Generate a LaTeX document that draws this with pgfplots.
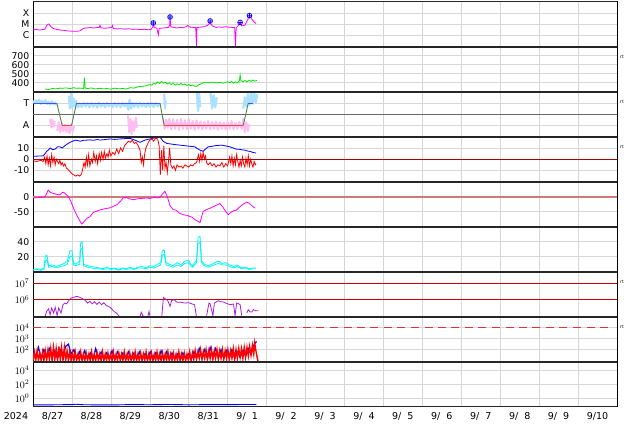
\documentclass[border=0pt]{standalone}
\usepackage{fontspec}
\setmainfont{DejaVu Sans}
\usepackage{pgfplots}
\pgfplotsset{compat=1.18}

\definecolor{xmag}{RGB}{255,0,255}
\definecolor{swgreen}{RGB}{0,230,0}
\definecolor{tcol}{RGB}{170,225,255}
\definecolor{acol}{RGB}{255,190,242}
\definecolor{secgreen}{RGB}{80,130,80}
\definecolor{pcyan}{RGB}{0,245,245}
\definecolor{purp}{RGB}{170,30,220}
\definecolor{refred}{RGB}{200,0,0}
\definecolor{dashred}{RGB}{225,50,50}
\definecolor{dstref}{RGB}{210,120,120}
\definecolor{gridc}{RGB}{215,215,215}

\pgfplotsset{
  panel/.style={
    scale only axis, width=584pt, height=45pt,
    anchor=north west,
    xmin=0, xmax=15, xtick={1,...,14}, xticklabels={},
    major tick length=0pt,
    xmajorgrids, ymajorgrids,
    major grid style={draw=gridc, line width=0.6pt},
    axis line style={line width=0.7pt},
    yticklabel style={font=\fontsize{9.3}{10}\selectfont, inner sep=0pt, xshift=-3.5pt},
    unbounded coords=jump,
  },
  logpanel/.style={panel, yticklabel style={font=\fontsize{10}{10}\selectfont}},
}

\begin{document}
\begin{tikzpicture}
\path[use as bounding box] (0,0) rectangle (634pt,-424pt);

% 1: X-ray flux (log10)
\begin{axis}[panel, at={(33pt,-1.7pt)}, ymin=-7, ymax=-3,
  ytick={-6,-5,-4}, yticklabels={C,M,X}]
\addplot[xmag, line width=0.8pt] coordinates {
(0.00,-5.50)(0.08,-5.47)(0.16,-5.52)(0.24,-5.48)(0.30,-5.45)(0.34,-5.20)(0.38,-5.00)(0.41,-4.98)
(0.45,-5.18)(0.52,-5.38)(0.60,-5.45)(0.70,-5.52)(0.80,-5.55)(0.90,-5.60)(1.00,-5.62)(1.10,-5.63)
(1.20,-5.60)(1.26,-5.45)(1.32,-5.35)(1.40,-5.32)(1.48,-5.30)(1.56,-5.34)(1.64,-5.30)(1.70,-5.28)
(1.72,-5.10)(1.74,-5.32)(1.84,-5.36)(1.94,-5.33)(2.02,-5.28)(2.04,-5.12)(2.06,-5.38)(2.16,-5.42)
(2.26,-5.40)(2.36,-5.44)(2.46,-5.40)(2.56,-5.46)(2.66,-5.44)(2.76,-5.48)(2.86,-5.45)(2.96,-5.50)
(3.04,-5.45)(3.08,-5.20)(3.09,-4.89)(3.11,-5.30)(3.18,-5.35)(3.22,-5.95)(3.24,-5.38)(3.32,-5.34)
(3.40,-5.32)(3.48,-5.28)(3.51,-5.10)(3.52,-4.36)(3.54,-5.22)(3.62,-5.30)(3.70,-5.34)(3.78,-5.28)
(3.86,-5.32)(3.94,-5.20)(3.98,-5.10)(4.02,-5.25)(4.10,-5.28)(4.18,-5.30)(4.20,-7.00)(4.21,-5.30)
(4.30,-5.26)(4.40,-5.22)(4.48,-5.10)(4.53,-4.95)(4.55,-4.71)(4.57,-5.00)(4.62,-5.18)(4.70,-5.28)
(4.78,-5.24)(4.86,-5.28)(4.94,-5.22)(5.02,-5.26)(5.10,-5.28)(5.18,-5.30)(5.20,-7.00)(5.22,-5.30)
(5.28,-5.10)(5.32,-4.84)(5.36,-5.15)(5.44,-5.10)(5.50,-4.70)(5.56,-4.24)(5.62,-4.55)(5.68,-4.80)(5.73,-4.95)
};
\addplot[only marks, mark=oplus, mark size=2.4pt, blue, line width=0.7pt, mark options={fill=blue!20}]
  coordinates {(3.09,-4.89)(3.52,-4.36)(4.55,-4.71)(5.32,-4.84)(5.56,-4.24)};
\end{axis}

% 2: solar wind speed
\begin{axis}[panel, at={(33pt,-46.7pt)}, ymin=300, ymax=800,
  ytick={400,500,600,700}, yticklabels={400,500,600,700}]
\addplot[swgreen, line width=0.8pt] coordinates {
(0.31,330)(0.40,325)(0.50,335)(0.60,332)(0.69,340)(0.75,338)(0.85,342)(0.95,335)(1.05,345)(1.10,338)
(1.20,340)(1.30,336)(1.32,455)(1.34,340)(1.40,335)(1.50,342)(1.60,330)(1.70,338)(1.80,332)(1.90,335)
(2.00,328)(2.10,340)(2.20,332)(2.30,336)(2.40,330)(2.50,345)(2.60,340)(2.70,355)(2.80,360)(2.90,365)
(3.00,380)(3.05,372)(3.10,395)(3.15,385)(3.20,410)(3.25,390)(3.30,415)(3.35,395)(3.40,405)(3.45,385)
(3.50,400)(3.55,380)(3.60,395)(3.65,372)(3.70,388)(3.75,378)(3.80,392)(3.85,375)(3.90,385)(3.95,370)
(4.00,380)(4.05,365)(4.10,375)(4.15,362)(4.20,358)(4.25,375)(4.30,385)(4.35,395)(4.40,402)(4.50,398)
(4.60,405)(4.70,398)(4.80,405)(4.90,395)(5.00,410)(5.05,400)(5.10,415)(5.15,395)(5.20,410)(5.25,398)
(5.30,420)(5.32,485)(5.34,420)(5.40,412)(5.45,425)(5.50,410)(5.55,428)(5.60,415)(5.65,430)(5.70,418)(5.75,425)
};
\end{axis}

% 3: IMF sector (T / A)
\begin{axis}[panel, at={(33pt,-91.7pt)}, ymin=-2, ymax=2,
  ytick={-1,1}, yticklabels={A,T}]
\addplot[tcol, line width=2.2pt, line join=round] coordinates {
(0.00,1.20)(0.04,0.95)(0.08,1.25)(0.12,1.00)(0.16,1.30)(0.20,0.90)(0.24,1.20)(0.28,0.95)(0.32,1.25)
(0.36,0.90)(0.40,1.10)(0.44,0.85)(0.48,1.15)(0.52,0.90)(0.56,1.05)(0.60,0.80)(0.61,nan)
(0.92,1.60)(0.95,0.50)(0.98,1.90)(1.01,0.60)(1.04,1.40)(1.07,0.70)(1.10,1.20)(1.12,0.90)(1.16,0.62)
(1.20,0.95)(1.25,0.65)(1.30,1.00)(1.35,0.70)(1.40,0.98)(1.45,0.62)(1.50,1.00)(1.55,0.66)(1.60,0.95)
(1.65,0.60)(1.70,1.02)(1.75,0.68)(1.80,0.96)(1.85,0.62)(1.90,1.00)(1.95,0.70)(2.00,0.95)(2.05,0.64)
(2.10,1.00)(2.15,0.66)(2.20,0.98)(2.25,0.62)(2.30,1.00)(2.35,0.70)(2.40,0.95)(2.45,0.40)(2.48,1.30)
(2.52,0.50)(2.56,1.00)(2.60,0.66)(2.65,0.98)(2.70,0.62)(2.75,1.00)(2.80,0.68)(2.85,0.96)(2.90,0.62)
(2.95,1.00)(3.00,0.66)(3.05,0.98)(3.10,0.64)(3.15,1.00)(3.20,0.70)(3.25,0.95)(3.26,nan)
(3.37,1.80)(3.39,0.50)(3.41,1.20)(3.42,nan)
(4.21,2.00)(4.24,0.30)(4.27,1.80)(4.29,0.60)(4.30,nan)
(4.56,1.90)(4.60,0.50)(4.64,1.70)(4.68,0.60)(4.72,1.50)(4.73,nan)
(5.40,0.50)(5.44,1.50)(5.48,0.70)(5.52,1.80)(5.56,0.80)(5.60,1.90)(5.64,0.90)(5.68,2.00)(5.72,1.00)(5.76,1.80)
};
\addplot[acol, line width=2.0pt, line join=round] coordinates {
(0.44,-0.40)(0.47,-1.20)(0.50,-0.50)(0.53,-1.10)(0.56,-0.60)(0.57,nan)
(0.62,-1.50)(0.66,-0.70)(0.70,-1.60)(0.74,-0.80)(0.78,-1.50)(0.82,-0.90)(0.86,-1.60)(0.90,-1.00)
(0.94,-1.70)(0.98,-0.90)(1.02,-1.50)(1.06,-1.00)(1.07,nan)
(2.44,-0.10)(2.47,-1.60)(2.50,-0.40)(2.53,-1.80)(2.56,-0.60)(2.60,-1.50)(2.64,-0.30)(2.67,-1.20)(2.68,nan)
(3.34,-0.30)(3.38,-1.30)(3.42,-0.50)(3.46,-1.20)(3.50,-0.40)(3.55,-1.35)(3.60,-0.45)(3.65,-1.30)
(3.70,-0.50)(3.75,-1.40)(3.80,-0.40)(3.85,-1.30)(3.90,-0.55)(3.95,-1.35)(4.00,-0.45)(4.05,-1.30)
(4.10,-0.60)(4.15,-1.40)(4.20,-0.55)(4.25,-1.30)(4.30,-0.65)(4.35,-1.35)(4.40,-0.70)(4.45,-1.30)
(4.50,-0.60)(4.55,-1.35)(4.60,-0.70)(4.65,-1.30)(4.70,-0.65)(4.75,-1.40)(4.80,-0.70)(4.85,-1.30)
(4.90,-0.75)(4.95,-1.35)(5.00,-0.70)(5.05,-1.30)(5.10,-0.60)(5.15,-1.35)(5.20,-0.75)(5.25,-1.30)
(5.30,-0.70)(5.36,-1.30)(5.40,-0.40)(5.44,-1.60)(5.48,-0.70)(5.52,-1.50)(5.55,-0.90)
};
\addplot[black!60, line width=0.8pt] coordinates {(0,0)(15,0)};
\addplot[blue!70, line width=0.9pt] coordinates {(0,1)(0.61,1)(0.62,nan)(1.12,1)(3.26,1)(3.27,nan)(5.53,1)(5.65,1)};
\addplot[secgreen, line width=0.9pt] coordinates {(0.61,1)(0.75,-1)(0.76,nan)(0.99,-1)(1.12,1)(1.13,nan)
  (3.26,1)(3.37,-1)(3.38,nan)(5.40,-1)(5.53,1)};
\addplot[red!75, line width=0.9pt] coordinates {(0.75,-1)(0.99,-1)(1.00,nan)(3.37,-1)(5.40,-1)};
\end{axis}

% 4: IMF Bt and Bz
\begin{axis}[panel, at={(33pt,-136.7pt)}, ymin=-20, ymax=20,
  ytick={-10,0,10}, yticklabels={-10,0,10}]
\addplot[blue, line width=0.8pt] coordinates {
(0.00,2.5)(0.13,2.8)(0.26,3.0)(0.31,5.0)(0.35,7.0)(0.39,8.0)(0.44,10.0)(0.50,8.5)(0.57,9.0)(0.63,11.0)
(0.69,11.0)(0.75,10.0)(0.82,12.0)(0.88,13.5)(0.95,15.0)(1.02,16.0)(1.08,17.0)(1.15,16.5)(1.21,16.0)
(1.30,16.8)(1.40,17.0)(1.46,17.2)(1.55,16.8)(1.65,17.5)(1.72,17.0)(1.85,17.5)(1.98,18.0)(2.10,17.6)
(2.23,18.0)(2.36,18.3)(2.49,18.5)(2.55,17.8)(2.62,17.0)(2.68,16.0)(2.75,15.0)(2.82,16.2)(2.88,17.0)
(2.95,17.6)(3.01,18.0)(3.07,18.6)(3.13,19.0)(3.20,19.3)(3.26,19.5)(3.30,18.0)(3.34,16.0)(3.39,15.0)
(3.44,14.0)(3.55,13.5)(3.65,13.0)(3.78,12.5)(3.90,12.0)(4.03,11.5)(4.16,11.0)(4.22,9.5)(4.29,8.0)
(4.37,7.0)(4.43,9.0)(4.50,11.0)(4.60,11.5)(4.68,12.0)(4.76,12.3)(4.85,12.5)(4.95,11.8)(5.06,11.0)
(5.14,10.0)(5.21,9.0)(5.30,8.8)(5.38,8.3)(5.45,8.0)(5.52,7.2)(5.57,7.0)(5.65,6.0)(5.73,5.5)
};
\addplot[red, line width=0.8pt] coordinates {
(0.00,-1.5)(0.10,-2)(0.20,-1)(0.26,-2)(0.30,2)(0.33,-4)(0.36,3)(0.39,-5)(0.42,1)(0.45,-6)(0.48,4)
(0.51,-3)(0.54,2)(0.57,-5)(0.60,0)(0.63,-2)(0.66,-4)(0.69,-1)(0.72,-5)(0.75,-3)(0.78,-6)(0.82,-4)
(0.86,-8)(0.90,-9)(0.95,-11)(1.00,-13)(1.05,-14)(1.10,-15)(1.15,-14)(1.20,-15)(1.25,-13)(1.28,-8)
(1.31,-3)(1.34,-7)(1.37,2)(1.40,-5)(1.43,4)(1.46,-6)(1.50,0)(1.53,-3)(1.56,6)(1.60,-2)(1.63,3)
(1.66,-4)(1.70,5)(1.73,-1)(1.76,6)(1.80,0)(1.83,7)(1.86,1)(1.90,5)(1.93,2)(1.96,8)(2.00,3)(2.05,6)
(2.10,4)(2.15,9)(2.20,5)(2.25,10)(2.30,7)(2.35,12)(2.40,14)(2.45,16)(2.50,15)(2.55,17)(2.60,14)
(2.65,15)(2.70,12)(2.75,8)(2.78,-3)(2.81,2)(2.84,-5)(2.87,5)(2.90,10)(2.95,14)(3.00,17)(3.05,18)
(3.10,16)(3.15,19)(3.20,18)(3.24,12)(3.27,-14)(3.30,8)(3.33,-10)(3.36,12)(3.39,-8)(3.42,-3)(3.45,-12)
(3.48,-2)(3.51,10)(3.54,-5)(3.58,-8)(3.62,-6)(3.66,-10)(3.70,-5)(3.75,-7)(3.80,-6)(3.85,-8)(3.90,-5)
(3.95,-6)(4.00,-7)(4.05,-5)(4.10,-6)(4.15,-4)(4.20,-3)(4.25,4)(4.28,-2)(4.31,5)(4.34,-1)(4.37,6)
(4.40,0)(4.43,3)(4.46,-3)(4.50,-5)(4.55,-3)(4.60,-6)(4.65,-4)(4.70,-7)(4.75,-5)(4.80,-6)(4.85,-3)
(4.90,-7)(4.95,-4)(5.00,-6)(5.05,2)(5.08,-4)(5.11,3)(5.14,-6)(5.17,1)(5.20,-5)(5.23,4)(5.26,-2)
(5.29,-7)(5.32,-1)(5.35,-6)(5.38,2)(5.41,-4)(5.44,-7)(5.47,1)(5.50,-5)(5.53,3)(5.56,-6)(5.59,0)
(5.62,-4)(5.65,-7)(5.68,-2)(5.71,-5)(5.73,-4)
};
\addplot[refred!85!black, line width=0.9pt] coordinates {(0,0)(15,0)};
\end{axis}

% 5: Dst
\begin{axis}[panel, at={(33pt,-181.7pt)}, ymin=-100, ymax=50,
  ytick={-50,0}, yticklabels={-50,0}]
\addplot[dstref, line width=1.8pt] coordinates {(0,0)(15,0)};
\addplot[xmag, line width=0.8pt] coordinates {
(0.00,-4)(0.15,-3)(0.31,-1)(0.39,22)(0.45,14)(0.52,11)(0.60,8)(0.69,6)(0.74,13)(0.78,15)(0.85,8)
(0.91,0)(0.97,-15)(1.04,-38)(1.10,-55)(1.18,-75)(1.25,-91)(1.30,-85)(1.38,-72)(1.46,-67)(1.55,-52)
(1.62,-49)(1.72,-44)(1.85,-40)(1.98,-37)(2.15,-27)(2.25,-15)(2.32,-3)(2.40,-3)(2.50,-8)(2.58,-10)
(2.68,-7)(2.78,-6)(2.92,-4)(3.00,-6)(3.10,-2)(3.20,-4)(3.26,-2)(3.33,10)(3.39,18)(3.45,0)(3.52,-30)
(3.60,-43)(3.68,-45)(3.76,-55)(3.86,-60)(3.95,-62)(4.08,-68)(4.18,-78)(4.29,-86)(4.37,-49)(4.46,-43)
(4.55,-38)(4.65,-32)(4.80,-23)(4.88,-35)(4.95,-50)(5.02,-60)(5.08,-52)(5.15,-47)(5.22,-45)(5.30,-35)
(5.40,-25)(5.49,-18)(5.56,-22)(5.62,-30)(5.70,-38)
};
\end{axis}

% 6: energetic particles
\begin{axis}[panel, at={(33pt,-226.7pt)}, ymin=0, ymax=60,
  ytick={20,40}, yticklabels={20,40}]
\addplot[pcyan, line width=0.8pt] coordinates {
(0.00,3)(0.10,4)(0.20,3)(0.28,5)(0.32,21)(0.36,22)(0.40,8)(0.50,9)(0.60,7)(0.70,9)(0.80,11)(0.88,14)
(0.95,28)(1.00,28)(1.04,12)(1.10,10)(1.20,14)(1.22,38)(1.26,40)(1.30,10)(1.40,8)(1.50,7)(1.60,6)
(1.70,5)(1.80,4)(1.90,6)(2.00,4)(2.10,5)(2.20,3)(2.30,5)(2.40,4)(2.50,6)(2.60,4)(2.70,6)(2.80,7)
(2.90,5)(3.00,8)(3.10,7)(3.20,10)(3.28,12)(3.32,28)(3.37,29)(3.42,12)(3.50,10)(3.60,8)(3.70,12)
(3.80,9)(3.90,14)(4.00,15)(4.05,10)(4.10,8)(4.15,12)(4.20,15)(4.24,46)(4.29,47)(4.33,15)(4.40,10)
(4.50,8)(4.60,10)(4.70,13)(4.78,14)(4.85,11)(4.95,12)(5.05,9)(5.15,7)(5.25,9)(5.35,5)(5.45,6)
(5.55,4)(5.65,5)(5.73,5)
};
\addplot[pcyan, line width=0.8pt] coordinates {
(0.00,2)(0.10,3)(0.20,2)(0.28,3)(0.32,15)(0.36,16)(0.40,6)(0.50,7)(0.60,5)(0.70,7)(0.80,8)(0.88,10)
(0.95,20)(1.00,21)(1.04,9)(1.10,8)(1.20,10)(1.22,30)(1.26,31)(1.30,8)(1.40,6)(1.50,5)(1.60,4)
(1.70,4)(1.80,3)(1.90,4)(2.00,3)(2.10,4)(2.20,2)(2.30,4)(2.40,3)(2.50,4)(2.60,3)(2.70,5)(2.80,5)
(2.90,4)(3.00,6)(3.10,5)(3.20,7)(3.28,9)(3.32,22)(3.37,23)(3.42,9)(3.50,8)(3.60,6)(3.70,9)(3.80,7)
(3.90,11)(4.00,12)(4.05,8)(4.10,6)(4.15,9)(4.20,12)(4.24,38)(4.29,39)(4.33,12)(4.40,8)(4.50,6)
(4.60,8)(4.70,10)(4.78,11)(4.85,9)(4.95,9)(5.05,7)(5.15,5)(5.25,7)(5.35,4)(5.45,5)(5.55,3)(5.65,4)(5.73,4)
};
\end{axis}

% 7: electron flux (log10)
\begin{axis}[logpanel, at={(33pt,-271.7pt)}, ymin=4.98, ymax=7.68,
  ytick={6,7}, yticklabels={$10^{6}$,$10^{7}$}]
\addplot[refred, line width=0.9pt] coordinates {(0,6)(15,6)};
\addplot[refred, line width=0.9pt] coordinates {(0,7)(15,7)};
\addplot[purp, line width=0.8pt] coordinates {
(0.31,5.00)(0.35,5.30)(0.40,5.45)(0.44,5.10)(0.48,5.50)(0.53,5.20)(0.57,5.55)(0.62,5.05)(0.66,5.50)
(0.72,5.20)(0.77,5.70)(0.82,5.80)(0.86,5.75)(0.92,5.95)(0.98,6.10)(1.05,6.15)(1.12,6.20)(1.20,6.15)
(1.28,6.05)(1.35,5.95)(1.40,5.80)(1.46,5.90)(1.52,5.75)(1.58,5.88)(1.64,5.72)(1.70,5.85)(1.76,5.70)
(1.82,5.82)(1.88,5.65)(1.94,5.60)(2.00,5.50)(2.08,5.30)(2.14,5.20)(2.20,5.05)(2.26,4.90)(2.27,nan)
(2.75,5.00)(2.78,5.25)(2.82,5.05)(2.86,4.95)(2.87,nan)(2.95,5.00)(2.98,5.30)(3.00,5.05)(3.01,nan)
(3.31,5.05)(3.35,6.14)(3.40,6.05)(3.46,5.95)(3.52,5.60)(3.56,5.95)(3.62,6.00)(3.70,5.85)(3.80,5.85)
(3.90,5.80)(4.00,5.82)(4.08,5.75)(4.15,5.70)(4.20,4.95)(4.21,nan)
(4.46,5.05)(4.52,5.80)(4.55,5.75)(4.62,5.05)(4.66,5.80)(4.70,5.86)(4.76,5.94)(4.82,5.88)(4.89,5.86)
(4.95,5.80)(5.06,5.70)(5.15,5.74)(5.19,5.05)(5.23,5.80)(5.28,5.76)(5.32,5.70)(5.36,5.05)(5.37,nan)
(5.49,5.20)(5.53,5.40)(5.58,5.26)(5.62,5.26)(5.66,5.40)(5.72,5.34)(5.79,5.34)
};
\end{axis}

% 8: proton flux (log10)
\begin{axis}[logpanel, at={(33pt,-316.7pt)}, ymin=0.9, ymax=5.0,
  ytick={2,3,4}, yticklabels={$10^{2}$,$10^{3}$,$10^{4}$}]
% threshold line, one dash per entry
\addplot[only marks, mark=-, mark size=4pt, mark options={draw=dashred, line width=1.6pt}] coordinates {
(0.10,4)(0.45,4)(0.80,4)(1.14,4)(1.49,4)(1.84,4)(2.18,4)(2.53,4)(2.88,4)(3.22,4)(3.57,4)(3.92,4)
(4.26,4)(4.61,4)(4.96,4)(5.30,4)(5.65,4)(6.00,4)(6.34,4)(6.69,4)(7.04,4)(7.38,4)(7.73,4)(8.08,4)
(8.42,4)(8.77,4)(9.12,4)(9.46,4)(9.81,4)(10.16,4)(10.50,4)(10.85,4)(11.20,4)(11.54,4)(11.89,4)
(12.24,4)(12.58,4)(12.93,4)(13.28,4)(13.62,4)(13.97,4)(14.32,4)(14.66,4)
};
\addplot[blue, line width=1.2pt] coordinates {
(0.00,2.1)(0.07,1.3)(0.14,2.2)(0.21,1.2)(0.28,2.0)(0.35,1.4)(0.42,2.1)(0.49,1.3)(0.56,1.9)(0.63,1.2)
(0.70,2.0)(0.77,1.5)(0.84,2.3)(0.91,2.5)(0.98,1.6)(1.05,2.0)(1.12,1.2)(1.19,1.8)(1.26,1.1)(1.33,1.9)
(1.40,1.2)(1.47,1.7)(1.54,1.1)(1.61,2.1)(1.68,1.3)(1.75,1.8)(1.82,1.1)(1.89,1.7)(1.96,1.2)(2.03,1.9)
(2.10,1.1)(2.17,1.8)(2.24,1.3)(2.31,1.7)(2.38,1.1)(2.45,1.8)(2.52,1.2)(2.59,1.7)(2.66,1.1)(2.73,1.8)
(2.80,1.2)(2.87,1.6)(2.94,1.1)(3.01,1.8)(3.08,1.2)(3.15,1.7)(3.22,1.1)(3.29,1.9)(3.36,1.2)(3.43,1.8)
(3.50,1.1)(3.57,1.7)(3.64,1.2)(3.71,1.6)(3.78,1.1)(3.85,1.7)(3.92,1.2)(3.99,1.6)(4.06,1.1)(4.13,1.8)
(4.20,1.2)(4.27,2.1)(4.34,1.3)(4.41,2.0)(4.48,1.2)(4.55,2.2)(4.62,1.4)(4.69,2.1)(4.76,1.3)(4.83,2.0)
(4.90,1.2)(4.97,1.9)(5.04,1.3)(5.11,2.0)(5.18,1.2)(5.25,1.8)(5.32,1.3)(5.39,1.9)(5.46,1.4)(5.53,2.1)
(5.60,1.6)(5.67,2.4)(5.74,2.75)
};
\addplot[red, line width=1.4pt] coordinates {
(0.000,1.0)(0.035,1.8)(0.070,1.0)(0.105,1.9)(0.140,1.0)(0.175,1.7)(0.210,1.0)(0.245,1.8)(0.280,1.0)
(0.315,1.9)(0.350,1.0)(0.385,2.0)(0.420,1.1)(0.455,2.1)(0.490,1.0)(0.525,2.2)(0.560,1.1)(0.595,2.1)
(0.630,1.0)(0.665,2.3)(0.700,1.1)(0.735,2.2)(0.770,1.0)(0.805,2.2)(0.840,1.0)(0.875,1.9)(0.910,1.0)
(0.945,1.8)(0.980,1.0)(1.015,1.7)(1.050,1.0)(1.085,1.8)(1.120,1.0)(1.155,1.6)(1.190,1.0)(1.225,1.8)
(1.260,1.0)(1.295,1.6)(1.330,1.0)(1.365,1.7)(1.400,1.0)(1.435,1.6)(1.470,1.0)(1.505,1.8)(1.540,1.0)
(1.575,1.6)(1.610,1.0)(1.645,1.7)(1.680,1.0)(1.715,1.6)(1.750,1.0)(1.785,1.8)(1.820,1.0)(1.855,1.6)
(1.890,1.0)(1.925,1.7)(1.960,1.0)(1.995,1.6)(2.030,1.0)(2.065,1.8)(2.100,1.0)(2.135,1.6)(2.170,1.0)
(2.205,1.7)(2.240,1.0)(2.275,1.6)(2.310,1.0)(2.345,1.8)(2.380,1.0)(2.415,1.6)(2.450,1.0)(2.485,1.7)
(2.520,1.0)(2.555,1.6)(2.590,1.0)(2.625,1.8)(2.660,1.0)(2.695,1.6)(2.730,1.0)(2.765,1.7)(2.800,1.0)
(2.835,1.6)(2.870,1.0)(2.905,1.8)(2.940,1.0)(2.975,1.6)(3.010,1.0)(3.045,1.7)(3.080,1.0)(3.115,1.6)
(3.150,1.0)(3.185,1.8)(3.220,1.0)(3.255,1.6)(3.290,1.0)(3.325,1.7)(3.360,1.0)(3.395,1.6)(3.430,1.0)
(3.465,1.8)(3.500,1.0)(3.535,1.6)(3.570,1.0)(3.605,1.7)(3.640,1.0)(3.675,1.6)(3.710,1.0)(3.745,1.8)
(3.780,1.0)(3.815,1.6)(3.850,1.0)(3.885,1.7)(3.920,1.0)(3.955,1.6)(3.990,1.0)(4.025,1.8)(4.060,1.0)
(4.095,1.7)(4.130,1.1)(4.165,1.9)(4.200,1.1)(4.235,1.8)(4.270,1.2)(4.305,2.0)(4.340,1.1)(4.375,1.8)
(4.410,1.2)(4.445,2.0)(4.480,1.1)(4.515,1.9)(4.550,1.2)(4.585,2.0)(4.620,1.1)(4.655,1.9)(4.690,1.2)
(4.725,2.0)(4.760,1.1)(4.795,1.9)(4.830,1.2)(4.865,2.0)(4.900,1.1)(4.935,1.9)(4.970,1.2)(5.005,2.0)
(5.040,1.1)(5.075,1.9)(5.110,1.2)(5.145,2.1)(5.180,1.1)(5.215,2.0)(5.250,1.2)(5.285,2.1)(5.320,1.3)
(5.355,2.1)(5.390,1.2)(5.425,2.2)(5.460,1.3)(5.495,2.2)(5.530,1.4)(5.565,2.3)(5.600,1.5)(5.635,2.4)
(5.670,1.6)(5.695,2.6)(5.730,1.8)(5.780,0.9)
};
\end{axis}

% 9: bottom panel (log10)
\begin{axis}[logpanel, at={(33pt,-361.7pt)}, ymin=-1.2, ymax=5.2,
  ytick={0,2,4}, yticklabels={$10^{0}$,$10^{2}$,$10^{4}$},
  extra x ticks={0.5,1.5,...,14.5},
  extra x tick labels={8/27,8/28,8/29,8/30,8/31,9/\hphantom{0}1,9/\hphantom{0}2,9/\hphantom{0}3,
    9/\hphantom{0}4,9/\hphantom{0}5,9/\hphantom{0}6,9/\hphantom{0}7,9/\hphantom{0}8,9/\hphantom{0}9,9/10},
  extra x tick style={grid=none, major tick length=0pt,
    xticklabel style={font=\fontsize{9.5}{10}\selectfont, inner sep=0pt, yshift=-5.6pt}}]
\addplot[blue, line width=0.9pt] coordinates {
(0.00,-0.95)(0.50,-0.93)(1.00,-0.90)(1.10,-0.85)(1.30,-0.92)(2.00,-0.95)(2.50,-0.90)(3.00,-0.92)
(3.50,-0.88)(4.00,-0.93)(4.50,-0.90)(5.00,-0.90)(5.74,-0.88)
};
\end{axis}

% panel separators and frame
\foreach \yy in {46.7,91.7,136.7,181.7,226.7,271.7,316.7,361.7}
  \draw[line width=2pt, black!85] (33pt,-\yy pt) -- (617pt,-\yy pt);
\draw[line width=1.2pt, black!85] (33pt,-1.7pt) -- (617pt,-1.7pt);
\draw[line width=1.2pt, black!85] (33pt,-406.7pt) -- (617pt,-406.7pt);

\node[font=\fontsize{9.5}{10}\selectfont] at (16pt,-416pt) {2024};
\foreach \yy in {56.7,101.7,146.7,281.7,326.7}
  \node[anchor=west, font=\fontsize{4.5}{5}\selectfont, inner sep=0pt] at (620pt,-\yy pt) {rt};
\end{tikzpicture}
\end{document}
